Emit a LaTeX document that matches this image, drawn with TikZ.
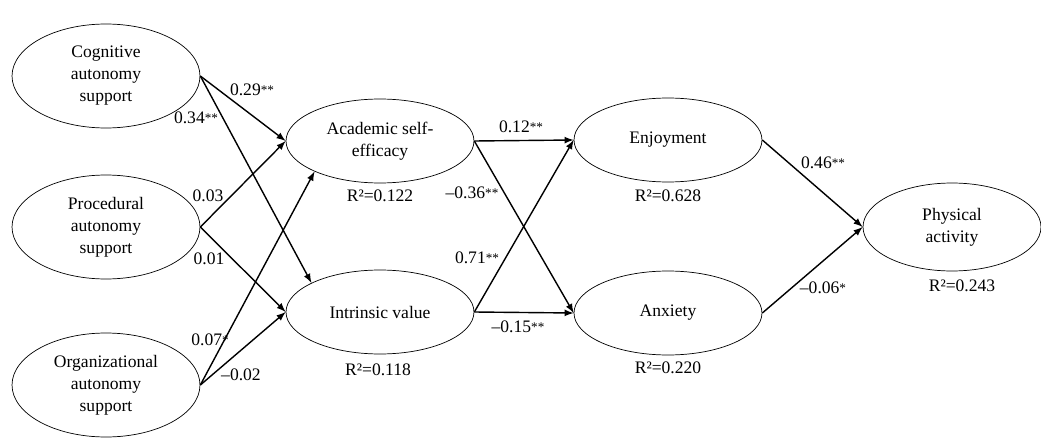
\documentclass[tikz,border=0pt]{standalone}
\usepackage{fontspec}
\setmainfont{Liberation Serif}
\usetikzlibrary{arrows,shapes,positioning}
\newcommand{\sig}[1]{\raisebox{0.6pt}{\fontsize{7.5}{7.5}\selectfont #1}}
\tikzset{
    basic/.style  = {draw, thin, ellipse, align=center, font=\fontsize{10}{12.5}\selectfont},
    exog/.style   = {basic, minimum width=3.76cm, minimum height=2.08cm},
    endog/.style  = {basic, minimum width=3.76cm, minimum height=1.68cm},
    outcome/.style = {basic, minimum width=3.56cm, minimum height=1.76cm},
    path coef/.style = {font=\fontsize{10}{12}\selectfont, inner sep=0pt},
    rsquare/.style = {path coef}
}

\begin{document}
\begin{tikzpicture}[x=0.02cm, y=-0.02cm, >=latex,
	link/.style={->, thick, draw}]
		\useasboundingbox (0,0) rectangle (1041,439);
		% latent variables
		\node[exog] (cog)  at (106,76)  {Cognitive\\autonomy\\support};
		\node[exog] (proc) at (106,227) {Procedural\\autonomy\\support};
		\node[exog] (org)  at (106,385) {Organizational\\autonomy\\support};
		\node[endog] (acad) at (380,141) {Academic self-\\efficacy};
		\node[endog] (intr) at (380,312) {Intrinsic value};
		\node[endog] (enj)  at (668,140) {Enjoyment};
		\node[endog] (anx)  at (668,313) {Anxiety};
		\node[outcome] (pa) at (952,227) {Physical\\activity};
		% explained variance
		\node[rsquare] (r-acad) at (380,196) {R²=0.122};
		\node[rsquare] (r-intr) at (378,370) {R²=0.118};
		\node[rsquare] (r-enj)  at (668,196) {R²=0.628};
		\node[rsquare] (r-anx)  at (668,368) {R²=0.220};
		\node[rsquare] (r-pa)   at (962,286) {R²=0.243};
		% paths
		\draw[link] (cog.east)  -- (acad.west);
		\draw[link] (cog.east)  -- (intr.157);
		\draw[link] (proc.east) -- (acad.west);
		\draw[link] (proc.east) -- (intr.west);
		\draw[link] (org.east)  -- (acad.205);
		\draw[link] (org.east)  -- (intr.west);
		\draw[link] (acad.east) -- (enj.west);
		\draw[link] (acad.east) -- (anx.west);
		\draw[link] (intr.east) -- (enj.west);
		\draw[link] (intr.east) -- (anx.west);
		\draw[link] (enj.east)  -- (pa.west);
		\draw[link] (anx.east)  -- (pa.west);
		% coefficients
		\node[path coef] (c1)  at (252,90)  {0.29\sig{**}};
		\node[path coef] (c2)  at (196,118) {0.34\sig{**}};
		\node[path coef] (c3)  at (208,196) {0.03};
		\node[path coef] (c4)  at (209,259) {0.01};
		\node[path coef] (c5)  at (210,340) {0.07\sig{*}};
		\node[path coef] (c6)  at (241,375) {–0.02};
		\node[path coef] (c7)  at (521,127) {0.12\sig{**}};
		\node[path coef] (c8)  at (472,193) {–0.36\sig{**}};
		\node[path coef] (c9)  at (477,258) {0.71\sig{**}};
		\node[path coef] (c10) at (518,327) {–0.15\sig{**}};
		\node[path coef] (c11) at (823,163) {0.46\sig{**}};
		\node[path coef] (c12) at (823,288) {–0.06\sig{*}};
	\end{tikzpicture}
\end{document}
